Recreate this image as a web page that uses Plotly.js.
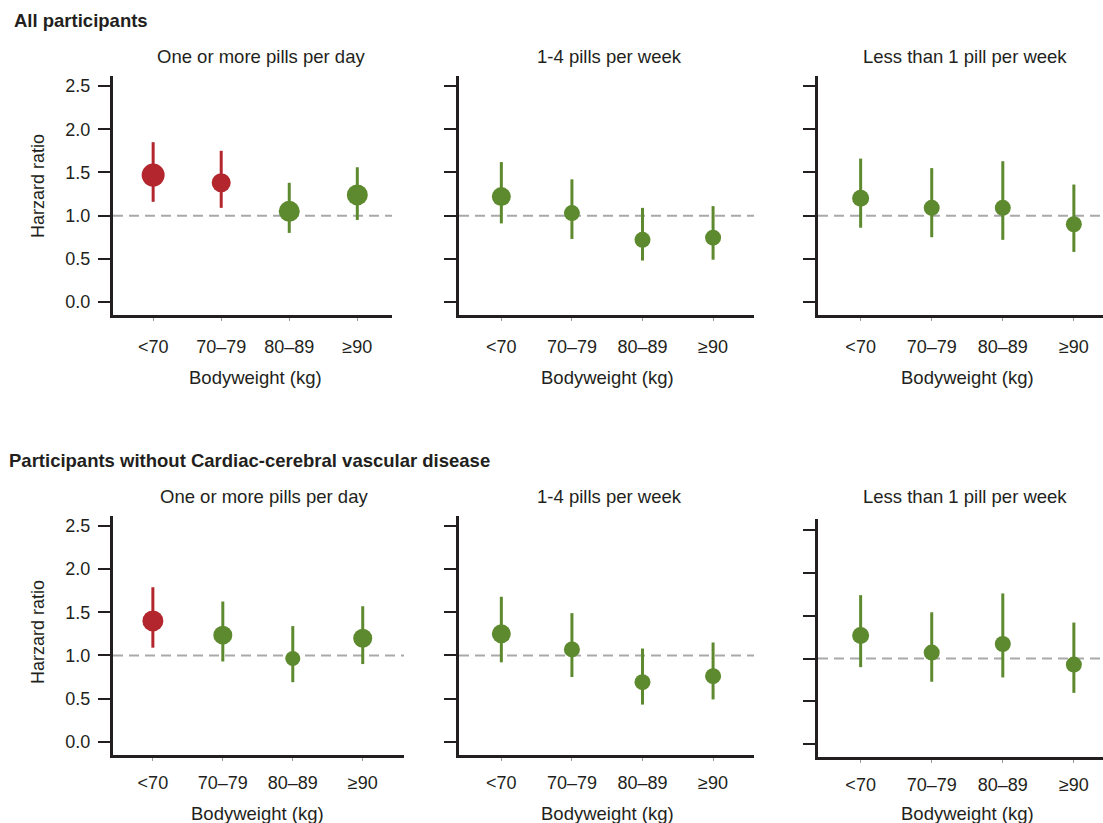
<!DOCTYPE html>
<html>
<head>
<meta charset="utf-8">
<script src="https://cdn.plot.ly/plotly-3.0.1.min.js"></script>
<style>html,body{margin:0;padding:0;background:#fff;}#chart{width:1103px;height:823px;}</style>
</head>
<body>
<div id="chart"></div>
<script>
// ---- data ----
const categories = ['<70', '70–79', '80–89', '≥90'];
const sectionTitles = ['All participants', 'Participants without Cardiac-cerebral vascular disease'];
const panelTitles = ['One or more pills per day', '1-4 pills per week', 'Less than 1 pill per week'];
const xTitle = 'Bodyweight (kg)';
const yTitle = 'Harzard ratio';
const yTickVals = [0, 0.5, 1.0, 1.5, 2.0, 2.5];
const referenceHR = 1;

const all_daily_hr = [1.47, 1.38, 1.05, 1.24];
const all_daily_lo = [1.16, 1.09, 0.80, 0.95];
const all_daily_hi = [1.85, 1.75, 1.38, 1.56];

const all_weekly_hr = [1.22, 1.03, 0.72, 0.745];
const all_weekly_lo = [0.91, 0.73, 0.48, 0.49];
const all_weekly_hi = [1.62, 1.42, 1.09, 1.11];

const all_rare_hr = [1.20, 1.09, 1.09, 0.90];
const all_rare_lo = [0.86, 0.75, 0.72, 0.58];
const all_rare_hi = [1.66, 1.55, 1.63, 1.36];

const nocvd_daily_hr = [1.40, 1.235, 0.965, 1.20];
const nocvd_daily_lo = [1.09, 0.93, 0.69, 0.90];
const nocvd_daily_hi = [1.79, 1.625, 1.34, 1.57];

const nocvd_weekly_hr = [1.25, 1.07, 0.69, 0.76];
const nocvd_weekly_lo = [0.92, 0.75, 0.43, 0.49];
const nocvd_weekly_hi = [1.68, 1.49, 1.08, 1.15];

const nocvd_rare_hr = [1.27, 1.07, 1.17, 0.93];
const nocvd_rare_lo = [0.90, 0.73, 0.78, 0.60];
const nocvd_rare_hi = [1.74, 1.54, 1.76, 1.42];

// ---- styling / layout ----
const W = 1103, H = 823;
const FONT = '"Liberation Sans", Arial, Helvetica, sans-serif';
const INK = '#231f20';
const RED = '#b3262d';
const GREEN = '#5e8a2f';

const panels = [
  {hr: all_daily_hr, lo: all_daily_lo, hi: all_daily_hi, row: 0, col: 0, px: [113, 392], py: [76, 315], xr: [-0.59, 3.51], yr: [-0.150, 2.616], sizes: [23, 19, 21, 21]},
  {hr: all_weekly_hr, lo: all_weekly_lo, hi: all_weekly_hi, row: 0, col: 1, px: [459, 754], py: [76, 315], xr: [-0.6, 3.58], yr: [-0.150, 2.616], sizes: [19, 16, 16, 16]},
  {hr: all_rare_hr, lo: all_rare_lo, hi: all_rare_hi, row: 0, col: 2, px: [818, 1103], py: [76, 315], xr: [-0.6, 3.41], yr: [-0.150, 2.616], sizes: [17, 16, 16, 16]},
  {hr: nocvd_daily_hr, lo: nocvd_daily_lo, hi: nocvd_daily_hi, row: 1, col: 0, px: [113, 404], py: [516, 755], xr: [-0.57, 3.59], yr: [-0.154, 2.616], sizes: [21, 19, 15, 19]},
  {hr: nocvd_weekly_hr, lo: nocvd_weekly_lo, hi: nocvd_weekly_hi, row: 1, col: 1, px: [459, 754], py: [516, 755], xr: [-0.6, 3.58], yr: [-0.154, 2.616], sizes: [19, 16, 16, 16]},
  {hr: nocvd_rare_hr, lo: nocvd_rare_lo, hi: nocvd_rare_hi, row: 1, col: 2, px: [818, 1103], py: [519, 757], xr: [-0.6, 3.41], yr: [-0.148, 2.628], sizes: [17, 16, 16, 16]}
];
const titleY = [56, 496];
const titleShift = [6, 2, -2];
const xTitleY = [377, 813];
const xLabelStandoff = [10, 6];
const yTitleCenter = [186, 632];
const sectionPos = [[12, 21], [7, 460]];

const data = [];
const layout = {
  width: W, height: H,
  margin: {l: 0, r: 0, t: 0, b: 0},
  paper_bgcolor: '#fff', plot_bgcolor: '#fff',
  showlegend: false,
  font: {family: FONT, size: 18, color: INK},
  shapes: [], annotations: []
};

panels.forEach((p, i) => {
  const n = i + 1;
  const xa = n === 1 ? 'x' : 'x' + n;
  const ya = n === 1 ? 'y' : 'y' + n;
  const groups = {red: [], green: []};
  p.hr.forEach((v, k) => { (p.lo[k] > referenceHR ? groups.red : groups.green).push(k); });
  [['red', RED], ['green', GREEN]].forEach(([g, color]) => {
    const idx = groups[g];
    if (!idx.length) return;
    data.push({
      type: 'scatter', mode: 'markers', xaxis: xa, yaxis: ya,
      x: idx.map(k => categories[k]),
      y: idx.map(k => p.hr[k]),
      error_y: {type: 'data', symmetric: false,
        array: idx.map(k => p.hi[k] - p.hr[k]),
        arrayminus: idx.map(k => p.hr[k] - p.lo[k]),
        color: color, thickness: 3, width: 0},
      marker: {color: color, opacity: 1, size: idx.map(k => p.sizes[k]), line: {width: 0}},
      hoverinfo: 'skip'
    });
  });
  const xKey = n === 1 ? 'xaxis' : 'xaxis' + n;
  const yKey = n === 1 ? 'yaxis' : 'yaxis' + n;
  layout[xKey] = {
    type: 'category', categoryorder: 'array', categoryarray: categories,
    domain: [p.px[0] / W, p.px[1] / W], range: p.xr, anchor: ya,
    showline: true, linewidth: 3, linecolor: INK,
    ticks: 'outside', ticklen: 3, tickwidth: 1, tickcolor: '#999',
    showgrid: false, zeroline: false,
    tickfont: {family: FONT, size: 18, color: INK},
    ticklabelstandoff: xLabelStandoff[p.row], fixedrange: true
  };
  layout[yKey] = {
    domain: [1 - p.py[1] / H, 1 - p.py[0] / H], range: p.yr, anchor: xa,
    showline: true, linewidth: 3, linecolor: INK,
    ticks: 'outside', ticklen: 12, tickwidth: 2, tickcolor: INK,
    tickvals: yTickVals, tickformat: '.1f',
    showticklabels: p.col === 0,
    showgrid: false, zeroline: false,
    tickfont: {family: FONT, size: 18, color: INK},
    ticklabelstandoff: 4, fixedrange: true
  };
  // reference line at HR = 1
  layout.shapes.push({type: 'line', xref: xa + ' domain', yref: ya, x0: 0, x1: 1, y0: referenceHR, y1: referenceHR,
    line: {color: '#a9a9a9', width: 2, dash: '10px,6px'}, layer: 'below'});
  // panel title
  layout.annotations.push({text: panelTitles[p.col], xref: xa, yref: 'paper', x: 1.5, y: 1 - titleY[p.row] / H,
    xshift: titleShift[p.col],
    xanchor: 'center', yanchor: 'middle', showarrow: false, font: {family: FONT, size: 18.5, color: INK}});
  // x-axis title
  layout.annotations.push({text: xTitle, xref: xa, yref: 'paper', x: 1.5, y: 1 - xTitleY[p.row] / H,
    xanchor: 'center', yanchor: 'middle', showarrow: false, font: {family: FONT, size: 18.5, color: INK}});
  if (p.col === 0) {
    layout.annotations.push({text: yTitle, xref: 'paper', yref: 'paper', x: 38 / W, y: 1 - yTitleCenter[p.row] / H,
      xanchor: 'center', yanchor: 'middle', textangle: -90, showarrow: false, font: {family: FONT, size: 18, color: INK}});
  }
});

sectionTitles.forEach((t, r) => {
  layout.annotations.push({text: '<b>' + t + '</b>', xref: 'paper', yref: 'paper',
    x: sectionPos[r][0] / W, y: 1 - sectionPos[r][1] / H, xanchor: 'left', yanchor: 'middle',
    showarrow: false, font: {family: FONT, size: 18.5, color: INK}});
});

Plotly.newPlot('chart', data, layout, {displayModeBar: false, staticPlot: true});
</script>
</body>
</html>
